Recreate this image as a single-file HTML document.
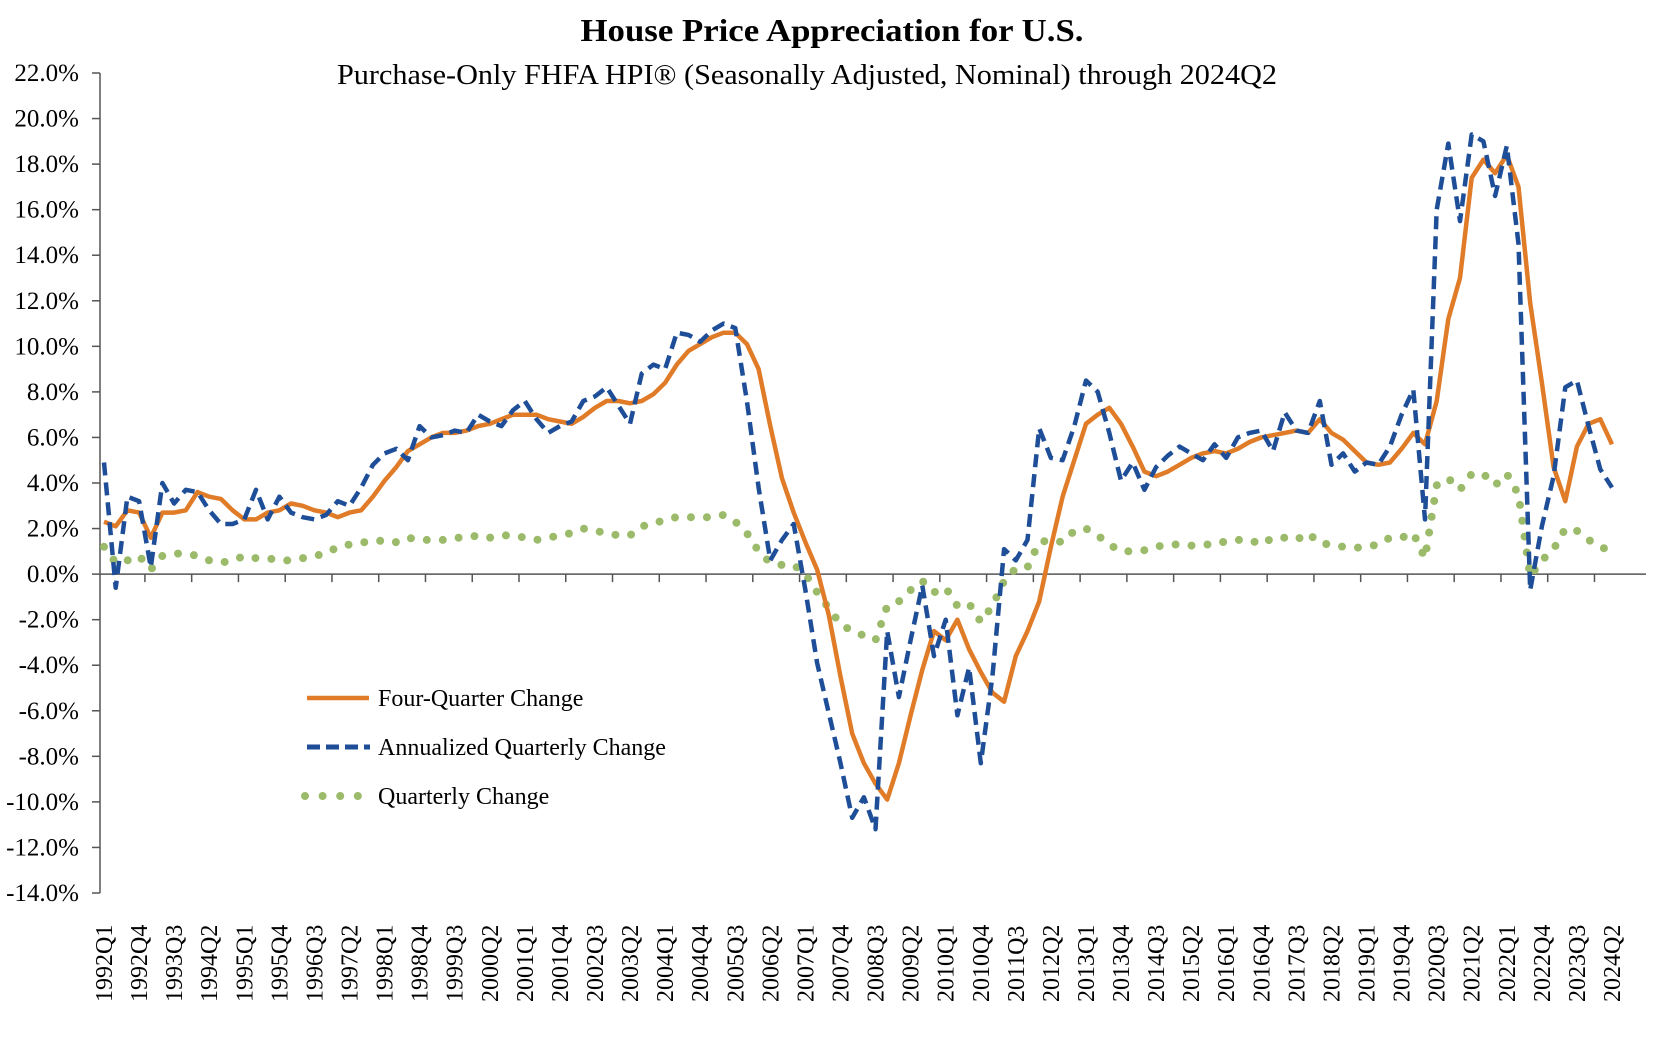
<!DOCTYPE html>
<html><head><meta charset="utf-8"><style>
html,body{margin:0;padding:0;background:#fff;}
svg{display:block;font-family:"Liberation Serif",serif;}
</style></head><body>
<svg id="chart" width="1668" height="1039" viewBox="0 0 1668 1039" xmlns="http://www.w3.org/2000/svg">
<text x="832" y="41" text-anchor="middle" font-size="32" font-weight="bold" textLength="503" lengthAdjust="spacingAndGlyphs">House Price Appreciation for U.S.</text>
<text x="337" y="84" font-size="28" textLength="940" lengthAdjust="spacingAndGlyphs">Purchase-Only FHFA HPI® (Seasonally Adjusted, Nominal) through 2024Q2</text>
<g id="axes"></g>
<g id="series"></g>
<g>
 <line x1="307" y1="698" x2="369" y2="698" stroke="#E07B28" stroke-width="4.5"/>
 <text x="378" y="706" font-size="24">Four-Quarter Change</text>
 <line x1="307" y1="747" x2="370" y2="747" stroke="#1F4E98" stroke-width="5" stroke-dasharray="13 6"/>
 <text x="378" y="755" font-size="24">Annualized Quarterly Change</text>
 <line x1="305" y1="796" x2="360" y2="796" stroke="#9BBB6A" stroke-width="8" stroke-linecap="round" stroke-dasharray="0 17.6"/>
 <text x="378" y="804" font-size="24">Quarterly Change</text>
</g>
</svg>
<script>
const fourQuarter = [2.3,2.1,2.8,2.7,1.6,2.7,2.7,2.8,3.6,3.4,
3.3,2.8,2.4,2.4,2.7,2.8,3.1,3.0,2.8,2.7,
2.5,2.7,2.8,3.4,4.1,4.7,5.4,5.7,6.0,6.2,
6.2,6.3,6.5,6.6,6.8,7.0,7.0,7.0,6.8,6.7,
6.6,6.9,7.3,7.6,7.6,7.5,7.6,7.9,8.4,9.2,
9.8,10.1,10.4,10.6,10.6,10.1,9.0,6.5,4.2,2.7,
1.4,0.2,-1.8,-4.5,-7.0,-8.3,-9.2,-9.9,-8.3,-6.2,
-4.2,-2.5,-2.9,-2.0,-3.3,-4.3,-5.2,-5.6,-3.6,-2.5,
-1.2,1.2,3.4,5.0,6.6,7.0,7.3,6.6,5.6,4.5,
4.3,4.5,4.8,5.1,5.3,5.4,5.3,5.5,5.8,6.0,
6.1,6.2,6.3,6.2,6.8,6.2,5.9,5.4,4.9,4.8,
4.9,5.5,6.2,5.7,7.6,11.2,13.0,17.4,18.2,17.6,
18.4,17.0,11.9,8.4,4.7,3.2,5.6,6.6,6.8,5.7];
const annualized = [4.9,-0.6,3.4,3.2,0.3,4.0,3.1,3.7,3.6,2.8,
2.2,2.2,2.4,3.7,2.4,3.4,2.7,2.5,2.4,2.6,
3.2,3.0,3.8,4.8,5.3,5.5,5.0,6.5,6.0,6.1,
6.3,6.2,7.0,6.7,6.5,7.2,7.6,6.8,6.2,6.5,
6.7,7.6,7.8,8.2,7.4,6.6,8.8,9.2,9.0,10.6,
10.5,10.2,10.7,11.0,10.8,7.6,3.8,0.6,1.5,2.2,
-0.7,-3.9,-6.1,-8.3,-10.7,-9.8,-11.2,-2.5,-5.4,-2.9,
-0.5,-3.6,-2.0,-6.2,-4.1,-8.3,-4.5,1.1,0.6,1.5,
6.4,5.1,5.0,6.5,8.5,8.0,6.2,4.1,4.9,3.7,
4.7,5.2,5.6,5.3,5.0,5.7,5.1,6.0,6.2,6.3,
5.4,7.1,6.3,6.2,7.6,4.8,5.3,4.5,4.9,4.8,
5.6,7.0,8.1,2.4,16.0,18.9,15.5,19.3,19.0,16.6,
18.8,14.5,-0.7,2.1,4.3,8.2,8.5,6.5,4.6,3.8];
const quarterly = [1.2,0.5,0.6,0.8,0.2,0.8,0.9,0.9,0.8,0.6,
0.5,0.6,0.8,0.7,0.7,0.6,0.6,0.7,0.8,0.9,
1.2,1.3,1.4,1.4,1.5,1.4,1.6,1.5,1.5,1.5,
1.6,1.6,1.7,1.6,1.7,1.7,1.6,1.5,1.6,1.7,
1.8,2.0,1.9,1.8,1.7,1.7,2.1,2.2,2.4,2.5,
2.5,2.5,2.5,2.6,2.3,1.8,1.0,0.5,0.4,0.4,
0.0,-0.8,-1.5,-2.2,-2.5,-2.7,-2.9,-1.4,-1.2,-0.7,
-0.3,-0.8,-0.6,-1.4,-1.3,-2.1,-1.4,-0.3,0.25,0.3,
1.4,1.5,1.4,1.9,2.0,1.7,1.3,1.0,1.0,1.05,
1.2,1.3,1.3,1.25,1.3,1.3,1.45,1.5,1.5,1.3,
1.6,1.6,1.5,1.8,1.35,1.3,1.2,1.15,1.2,1.3,
1.6,1.6,1.8,0.7,3.9,4.2,3.7,4.4,4.4,3.9,
4.4,3.5,-0.1,0.6,1.1,2.0,1.9,1.5,1.2,1.0];
const yTicks = [22,20,18,16,14,12,10,8,6,4,2,0,-2,-4,-6,-8,-10,-12,-14];
const startYear = 1992;

const NS = "http://www.w3.org/2000/svg";
const X0 = 104, DX = 11.69;
const Y_TOP = 73, Y_BOT = 893, V_MAX = 22, V_MIN = -14;
function xs(i){ return X0 + i*DX; }
function ys(v){ return Y_TOP + (V_MAX - v)/(V_MAX - V_MIN)*(Y_BOT - Y_TOP); }
function mk(tag, attrs, parent){ const e=document.createElementNS(NS,tag); for(const k in attrs) e.setAttribute(k,attrs[k]); parent.appendChild(e); return e; }

const axes = document.getElementById('axes');
const n = fourQuarter.length;
function qLabel(i){ return (startYear + Math.floor(i/4)) + 'Q' + (i%4+1); }

const ya = mk('line',{x1:100,y1:Y_TOP,x2:100,y2:Y_BOT,stroke:'#555','stroke-width':1.5},axes);


yTicks.forEach(v=>{
  const y = ys(v);
  const t = mk('line',{x1:92,y1:y,x2:100,y2:y,stroke:'#555','stroke-width':1.5},axes);
  
  
  const lb = mk('text',{x:79,y:y+8,'text-anchor':'end','font-size':25},axes);
  
  
  lb.textContent = v.toFixed(1)+'%';
});
const xa = mk('line',{x1:100,y1:ys(0),x2:1646,y2:ys(0),stroke:'#555','stroke-width':1.5},axes);


for(let i=4;i<n;i+=4){
  const x = xs(i) - DX/2;
  const t = mk('line',{x1:x,y1:ys(0),x2:x,y2:ys(0)+8,stroke:'#555','stroke-width':1.5},axes);
  
  
}
for(let i=0;i<n;i+=3){
  const x = xs(i)+8, y = 1002;
  const lb = mk('text',{x:x,y:y,'font-size':24,transform:`rotate(-90 ${x} ${y})`},axes);
  
  
  lb.textContent = qLabel(i);
}

const series = document.getElementById('series');
function pathFor(arr){ return arr.map((v,i)=>(i?'L':'M')+xs(i).toFixed(1)+' '+ys(v).toFixed(1)).join(' '); }
const pq = mk('path',{d:pathFor(quarterly),fill:'none',stroke:'#9BBB6A','stroke-width':8,'stroke-linecap':'round','stroke-dasharray':'0 16'},series);


const pf = mk('path',{d:pathFor(fourQuarter),fill:'none',stroke:'#E07B28','stroke-width':4.5,'stroke-linejoin':'round'},series);


const pa = mk('path',{d:pathFor(annualized),fill:'none',stroke:'#1F4E98','stroke-width':4.5,'stroke-dasharray':'13 7','stroke-linejoin':'round'},series);


</script>
</body></html>
